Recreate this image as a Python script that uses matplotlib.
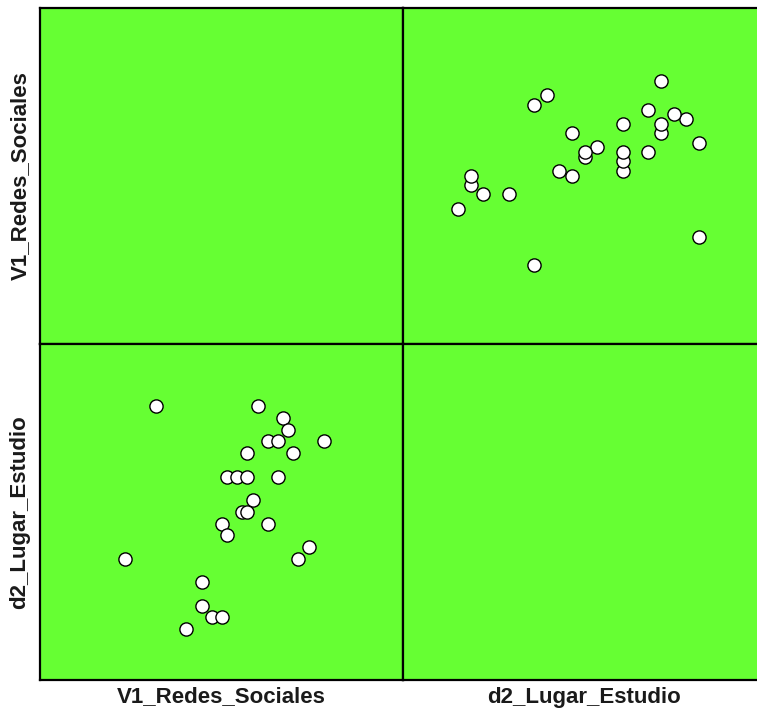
import matplotlib.pyplot as plt

# Scatterplot matrix: V1_Redes_Sociales vs d2_Lugar_Estudio (27 cases)
v1 = [36, 56, 61, 62, 58, 60, 69, 54, 63, 50, 52, 54, 60, 55, 53, 54, 49,
      58, 50, 66, 30, 64, 45, 45, 47, 49, 42]
d2 = [31, 31, 30, 29, 28, 28, 28, 27, 27, 25, 25, 25, 25, 23, 22, 22, 21,
      21, 20, 19, 18, 18, 16, 14, 13, 13, 12]

var_names = ['V1_Redes_Sociales', 'd2_Lugar_Estudio']
limits = {'V1_Redes_Sociales': (13.33, 84.5), 'd2_Lugar_Estudio': (7.68, 36.28)}
data = {'V1_Redes_Sociales': v1, 'd2_Lugar_Estudio': d2}

plt.rcParams['font.family'] = ['Liberation Sans', 'DejaVu Sans']

W, H = 757, 711
fig = plt.figure(figsize=(W / 100, H / 100), dpi=100)

x0, pw = 40, 363
y0, ph = 8, 336

for r, yname in enumerate(var_names):
    for c, xname in enumerate(var_names):
        left = (x0 + c * pw) / W
        bottom = (H - (y0 + (r + 1) * ph)) / H
        ax = fig.add_axes([left, bottom, pw / W, ph / H])
        ax.set_facecolor('#66ff33')
        ax.set_xlim(limits[xname])
        ax.set_ylim(limits[yname])
        ax.set_xticks([])
        ax.set_yticks([])
        for s in ax.spines.values():
            s.set_linewidth(1.6)
            s.set_color('black')
        if r != c:
            ax.plot(data[xname], data[yname], 'o', ms=9.5, mfc='white',
                    mec='black', mew=1.0, clip_on=True)

# variable labels
for i, name in enumerate(var_names):
    fig.text((x0 + pw * (i + 0.5)) / W, 1 - 697 / H, name, ha='center',
             va='center', fontsize=16, fontweight='bold', color='#1a1a1a')
    fig.text(20 / W, 1 - (y0 + ph * (i + 0.5)) / H, name, ha='center',
             va='center', rotation=90, fontsize=16, fontweight='bold',
             color='#1a1a1a')

fig.savefig('out.png', dpi=100, facecolor='white')
